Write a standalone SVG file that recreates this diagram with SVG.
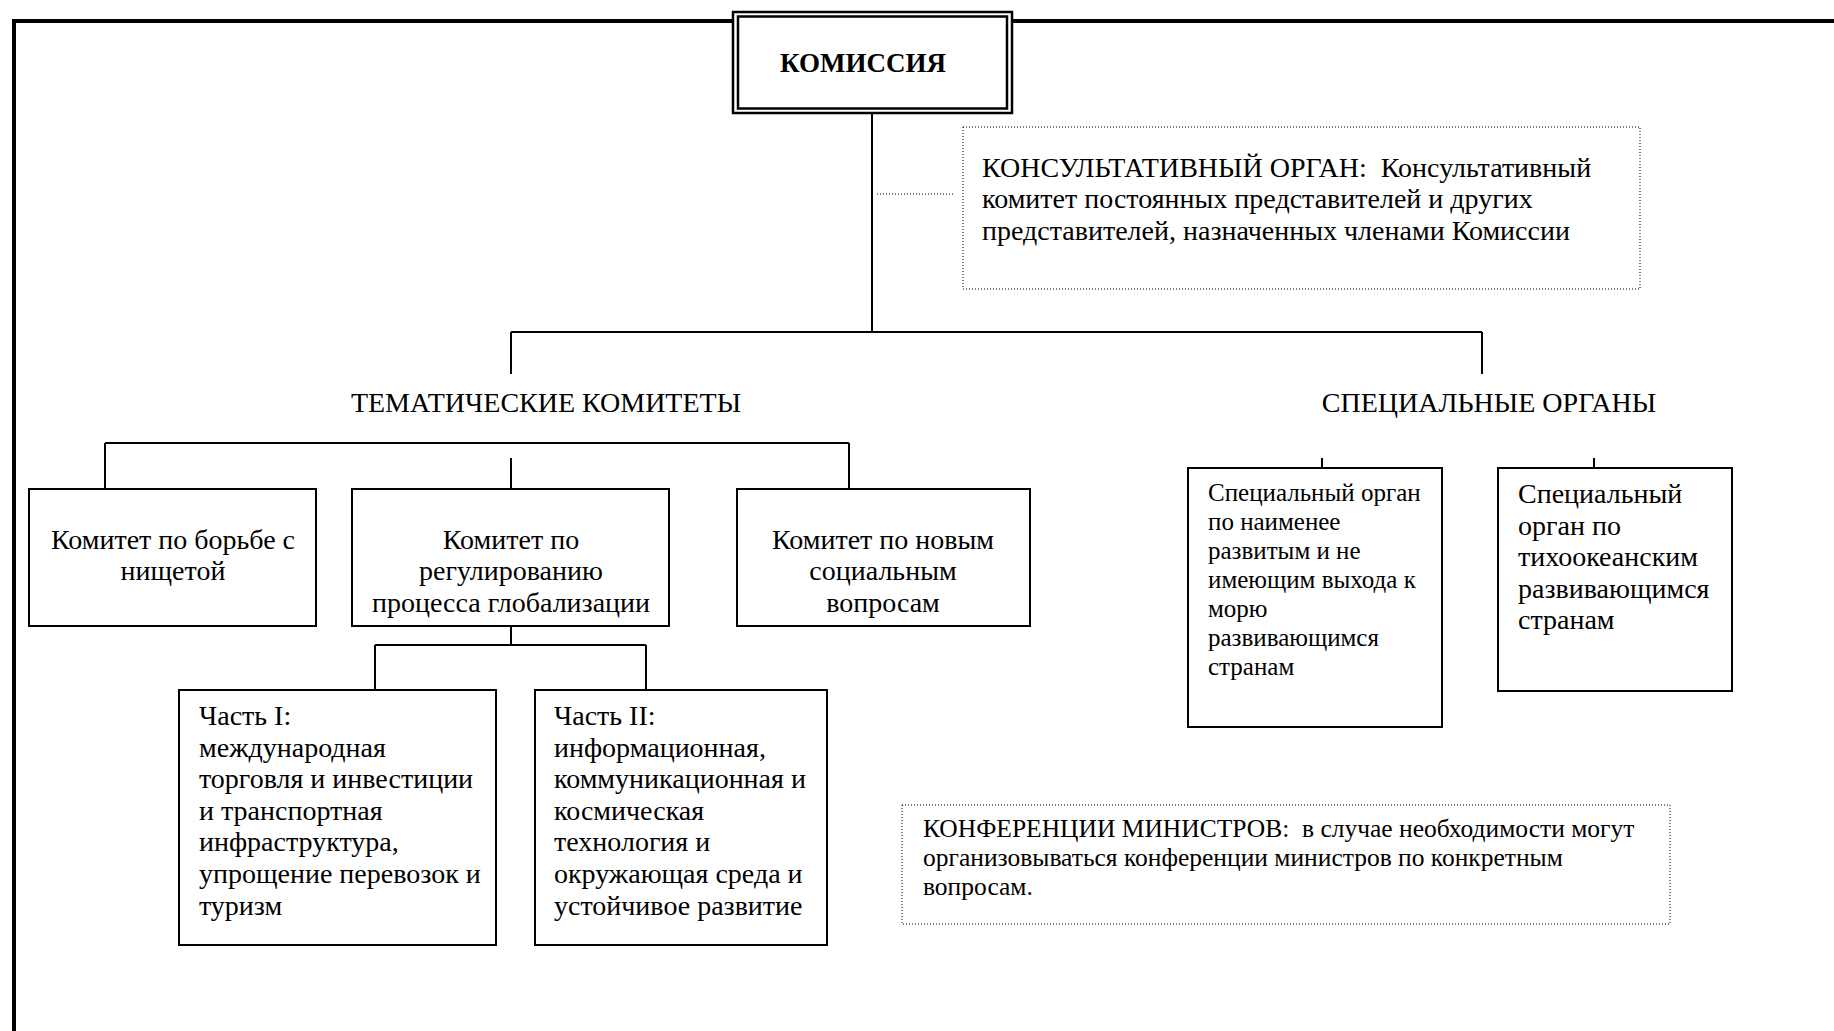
<svg xmlns="http://www.w3.org/2000/svg" width="1834" height="1031" viewBox="0 0 1834 1031">
<style>
text{font-family:"Liberation Serif","Times New Roman",serif;fill:#000}
.t{font-size:28px}
.s1{font-size:25px}
.s2{font-size:28px}
.c{font-size:25.5px}
.box{fill:#fff;stroke:#000;stroke-width:2}
.dot{fill:#fff;stroke:#000;stroke-width:1;stroke-dasharray:1 2}
.ln{stroke:#000;stroke-width:2;fill:none}
.dl{stroke:#000;stroke-width:1;stroke-dasharray:1 2;fill:none}
.fr{stroke:#000;stroke-width:4;fill:none}
</style>
<rect width="1834" height="1031" fill="#fff"/>
<g id="frame">
<path class="fr" d="M14 1031 V21 H733 M1012 21 H1834"/>
</g>
<g id="connectors">
<path class="ln" d="M872 113 V332 M511 332 H1482 M511 332 V374 M1482 332 V374"/>
<path class="dl" d="M877 194 H953"/>
<path class="ln" d="M105 443 H849 M105 443 V489 M849 443 V489 M511 458 V489"/>
<path class="ln" d="M1322 458 V468 M1594 458 V468"/>
<path class="ln" d="M511 626 V645 M375 645 H646 M375 645 V690 M646 645 V690"/>
</g>
<g id="komissiya">
<rect x="733" y="12" width="279" height="101" fill="#fff" stroke="#000" stroke-width="2.5"/>
<rect x="738" y="16.5" width="269" height="92" fill="none" stroke="#000" stroke-width="2.5"/>
<text x="863" y="72" text-anchor="middle" font-size="27" font-weight="bold">КОМИССИЯ</text>
</g>
<g id="konsult">
<rect class="dot" x="963" y="127" width="677" height="162"/>
<text class="t" x="982" y="177" xml:space="preserve">КОНСУЛЬТАТИВНЫЙ ОРГАН:  Консультативный</text>
<text class="t" x="982" y="208">комитет постоянных представителей и других</text>
<text class="t" x="982" y="240">представителей, назначенных членами Комиссии</text>
</g>
<g id="tematicheskie">
<text class="t" x="546" y="412" text-anchor="middle">ТЕМАТИЧЕСКИЕ КОМИТЕТЫ</text>
</g>
<g id="specialnye">
<text class="t" x="1489" y="412" text-anchor="middle">СПЕЦИАЛЬНЫЕ ОРГАНЫ</text>
</g>
<g id="kom-bednost">
<rect class="box" x="29" y="489" width="287" height="137"/>
<text class="t" x="173" y="549" text-anchor="middle">Комитет по борьбе с</text>
<text class="t" x="173" y="580" text-anchor="middle">нищетой</text>
</g>
<g id="kom-globalizaciya">
<rect class="box" x="352" y="489" width="317" height="137"/>
<text class="t" x="511" y="549" text-anchor="middle">Комитет по</text>
<text class="t" x="511" y="580" text-anchor="middle">регулированию</text>
<text class="t" x="511" y="612" text-anchor="middle">процесса глобализации</text>
</g>
<g id="kom-socialnye">
<rect class="box" x="737" y="489" width="293" height="137"/>
<text class="t" x="883" y="549" text-anchor="middle">Комитет по новым</text>
<text class="t" x="883" y="580" text-anchor="middle">социальным</text>
<text class="t" x="883" y="612" text-anchor="middle">вопросам</text>
</g>
<g id="chast1">
<rect class="box" x="179" y="690" width="317" height="255"/>
<text class="t" x="199" y="725">Часть I:</text>
<text class="t" x="199" y="757">международная</text>
<text class="t" x="199" y="788">торговля и инвестиции</text>
<text class="t" x="199" y="820">и транспортная</text>
<text class="t" x="199" y="851">инфраструктура,</text>
<text class="t" x="199" y="883">упрощение перевозок и</text>
<text class="t" x="199" y="915">туризм</text>
</g>
<g id="chast2">
<rect class="box" x="535" y="690" width="292" height="255"/>
<text class="t" x="554" y="725">Часть II:</text>
<text class="t" x="554" y="757">информационная,</text>
<text class="t" x="554" y="788">коммуникационная и</text>
<text class="t" x="554" y="820">космическая</text>
<text class="t" x="554" y="851">технология и</text>
<text class="t" x="554" y="883">окружающая среда и</text>
<text class="t" x="554" y="915">устойчивое развитие</text>
</g>
<g id="spec1">
<rect class="box" x="1188" y="468" width="254" height="259"/>
<text class="s1" x="1208" y="501">Специальный орган</text>
<text class="s1" x="1208" y="530">по наименее</text>
<text class="s1" x="1208" y="559">развитым и не</text>
<text class="s1" x="1208" y="588">имеющим выхода к</text>
<text class="s1" x="1208" y="617">морю</text>
<text class="s1" x="1208" y="646">развивающимся</text>
<text class="s1" x="1208" y="675">странам</text>
</g>
<g id="spec2">
<rect class="box" x="1498" y="468" width="234" height="223"/>
<text class="s2" x="1518" y="503">Специальный</text>
<text class="s2" x="1518" y="535">орган по</text>
<text class="s2" x="1518" y="566">тихоокеанским</text>
<text class="s2" x="1518" y="598">развивающимся</text>
<text class="s2" x="1518" y="629">странам</text>
</g>
<g id="konferencii">
<rect class="dot" x="902" y="805" width="768" height="119"/>
<text class="c" x="923" y="837" xml:space="preserve">КОНФЕРЕНЦИИ МИНИСТРОВ:  в случае необходимости могут</text>
<text class="c" x="923" y="866">организовываться конференции министров по конкретным</text>
<text class="c" x="923" y="895">вопросам.</text>
</g>
</svg>
